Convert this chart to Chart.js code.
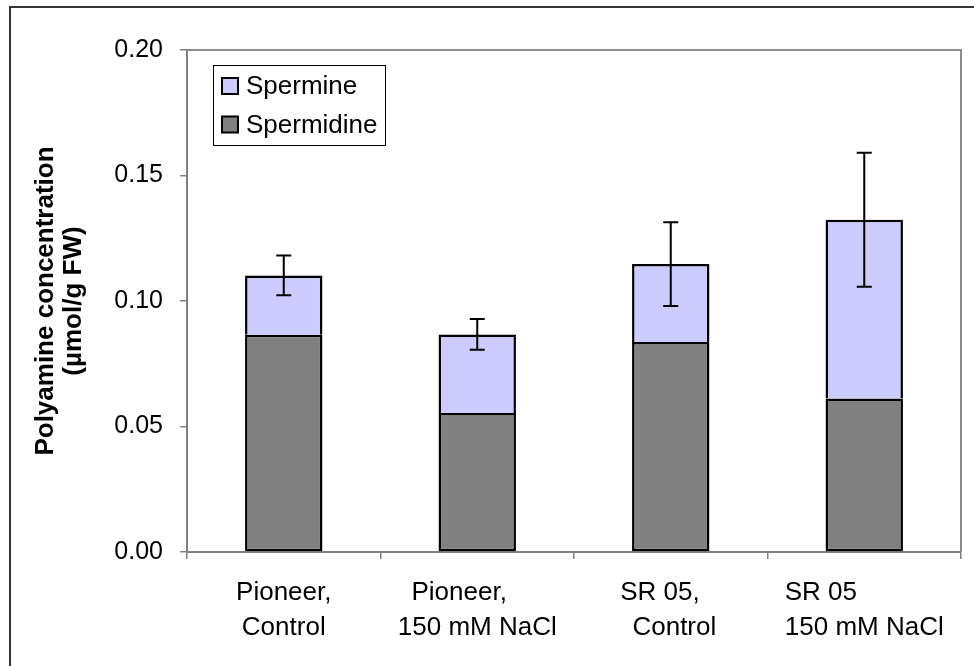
<!DOCTYPE html>
<html>
<head>
<meta charset="utf-8">
<script src="https://cdn.jsdelivr.net/npm/chart.js@4.4.1/dist/chart.umd.min.js"></script>
<style>
  html, body { margin: 0; padding: 0; background: #fff; }
  canvas { display: block; }
</style>
</head>
<body>
<canvas id="polyChart" width="974" height="666"></canvas>
<script>
// data
const categories = [
  ['Pioneer,', 'Control'],
  ['Pioneer,     ', '150 mM NaCl'],
  ['SR 05,   ', ' Control'],
  ['SR 05            ', '150 mM NaCl']
];
const spermidine = [0.0866, 0.0554, 0.0837, 0.0612];
const spermine = [0.0236, 0.0313, 0.0310, 0.0712];
const totalError = [0.0079, 0.0061, 0.0167, 0.0267];
const yTicks = [0, 0.05, 0.10, 0.15, 0.20];
const yTitle = ['Polyamine concentration', '(µmol/g FW)'];

const FONT = "'Liberation Sans', Arial, sans-serif";
const axisGray = '#808080';

const extras = {
  id: 'extras',
  beforeDraw(chart) {
    const ctx = chart.ctx;
    ctx.save();
    ctx.fillStyle = '#fff';
    ctx.fillRect(0, 0, chart.width, chart.height);
    ctx.strokeStyle = '#333';
    ctx.lineWidth = 2;
    ctx.strokeRect(10, 7, chart.width + 20, chart.height + 20);
    ctx.restore();
  },
  afterDatasetsDraw(chart) {
    const ctx = chart.ctx;
    const y = chart.scales.y;
    const meta = chart.getDatasetMeta(1);
    ctx.save();
    ctx.strokeStyle = '#000';
    ctx.lineWidth = 2;
    meta.data.forEach((bar, i) => {
      const total = spermidine[i] + spermine[i];
      const hi = y.getPixelForValue(total + totalError[i]);
      const lo = y.getPixelForValue(total - totalError[i]);
      ctx.beginPath();
      ctx.moveTo(bar.x, hi); ctx.lineTo(bar.x, lo);
      ctx.moveTo(bar.x - 7.5, hi); ctx.lineTo(bar.x + 7.5, hi);
      ctx.moveTo(bar.x - 7.5, lo); ctx.lineTo(bar.x + 7.5, lo);
      ctx.stroke();
    });
    ctx.restore();
  },
  afterDraw(chart) {
    const ctx = chart.ctx;
    const a = chart.chartArea;
    ctx.save();
    // plot area frame, top and right
    ctx.strokeStyle = '#8c8c8c';
    ctx.lineWidth = 2;
    ctx.beginPath();
    ctx.moveTo(a.left, a.top);
    ctx.lineTo(a.right, a.top);
    ctx.lineTo(a.right, a.bottom);
    ctx.stroke();

    // legend
    ctx.fillStyle = '#fff';
    ctx.fillRect(213, 65, 172, 80);
    ctx.strokeStyle = '#000';
    ctx.lineWidth = 1;
    ctx.strokeRect(213.5, 65.5, 172, 80);
    const items = chart.data.datasets.slice().reverse();
    ctx.font = '26px ' + FONT;
    ctx.textBaseline = 'middle';
    ctx.textAlign = 'left';
    items.forEach((ds, k) => {
      const cy = 86 + k * 38.5;
      ctx.fillStyle = ds.backgroundColor;
      ctx.fillRect(222, cy - 8, 16, 16);
      ctx.lineWidth = 2;
      ctx.strokeRect(222, cy - 8, 16, 16);
      ctx.fillStyle = '#000';
      ctx.fillText(ds.label, 246, cy + 1);
    });

    // y axis title
    ctx.font = 'bold 26px ' + FONT;
    ctx.textAlign = 'center';
    ctx.translate(46, (a.top + a.bottom) / 2);
    ctx.rotate(-Math.PI / 2);
    yTitle.forEach((line, k) => ctx.fillText(line, 0, k * 28));
    ctx.restore();
  }
};

new Chart(document.getElementById('polyChart'), {
  type: 'bar',
  data: {
    labels: categories,
    datasets: [
      {
        label: 'Spermidine',
        data: spermidine,
        backgroundColor: '#808080',
        borderColor: '#000',
        borderWidth: 2.5,
        borderSkipped: false,
        barPercentage: 0.4,
        categoryPercentage: 1
      },
      {
        label: 'Spermine',
        data: spermine,
        backgroundColor: '#ccccff',
        borderColor: '#000',
        borderWidth: 2.5,
        borderSkipped: 'start',
        barPercentage: 0.4,
        categoryPercentage: 1
      }
    ]
  },
  options: {
    responsive: false,
    animation: false,
    devicePixelRatio: 1,
    layout: { padding: { left: 0, top: 50, right: 13, bottom: 0 } },
    plugins: {
      legend: { display: false },
      tooltip: { enabled: false }
    },
    scales: {
      x: {
        stacked: true,
        afterFit: (s) => { s.height = 114; },
        grid: { offset: true, drawOnChartArea: false, tickLength: 7, color: axisGray, lineWidth: 1.5 },
        border: { color: axisGray, width: 2 },
        ticks: {
          autoSkip: false,
          maxRotation: 0,
          padding: 16,
          color: '#000',
          font: { family: FONT, size: 26, lineHeight: 1.35 }
        }
      },
      y: {
        stacked: true,
        min: 0,
        max: 0.2,
        afterFit: (s) => { s.width = 187; },
        afterBuildTicks: (s) => { s.ticks = yTicks.map(v => ({ value: v })); },
        grid: { drawOnChartArea: false, tickLength: 7, color: axisGray, lineWidth: 1.5 },
        border: { color: axisGray, width: 2 },
        ticks: {
          padding: 17,
          color: '#000',
          font: { family: FONT, size: 25 },
          callback: (v) => v.toFixed(2)
        }
      }
    }
  },
  plugins: [extras]
});
</script>
</body>
</html>
